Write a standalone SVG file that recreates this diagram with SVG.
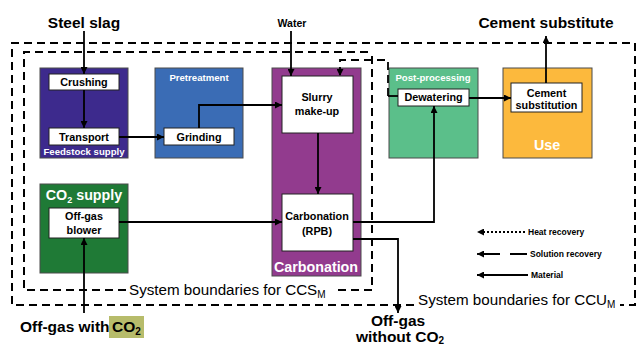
<svg xmlns="http://www.w3.org/2000/svg" width="638" height="347" viewBox="0 0 638 347">
<style>
text{font-family:"Liberation Sans",Arial,sans-serif;font-weight:bold;fill:#000}
.stage{stroke:#4a4a4a;stroke-width:1}
.proc{fill:#fff;stroke:#222;stroke-width:1}
.lbl{fill:#fff;font-size:9.6px}
.big{fill:#fff;font-size:14.3px}
.pt{font-size:10.8px;text-anchor:middle}
.io{font-size:15.5px}
.bnd{fill:none;stroke:#000;stroke-width:2;stroke-dasharray:8 5}
.bt{font-weight:normal;font-size:15.2px}
.con{fill:none;stroke:#000;stroke-width:1.8;marker-end:url(#ah)}
.ln{fill:none;stroke:#000;stroke-width:1.8}
.leg{font-size:8.5px}
</style>
<defs>
<marker id="ah" markerUnits="userSpaceOnUse" markerWidth="8" markerHeight="7" refX="7" refY="3.5" orient="auto">
<path d="M0,0 L7,3.5 L0,7 z" fill="#000"/>
</marker>
</defs>

<g id="boundaries">
<path class="bnd" d="M414,305 H12 V43 H635 V305 H620"/>
<path class="bnd" d="M126,290 H24 V52 H370"/>
<path class="bnd" d="M372,56 V290 H336"/>
<text class="bt" x="129" y="295">System boundaries for CCS<tspan font-size="10px" dy="3">M</tspan></text>
<text class="bt" x="418" y="305">System boundaries for CCU<tspan font-size="10px" dy="3">M</tspan></text>
</g>

<g id="feedstock">
<rect class="stage" x="40" y="68" width="88" height="90" fill="#3d2a8d"/>
<text class="lbl" x="84" y="155" text-anchor="middle">Feedstock supply</text>
</g>
<g id="crushing">
<rect class="proc" x="49" y="74" width="70" height="16"/>
<text class="pt" x="84" y="86">Crushing</text>
</g>
<g id="transport">
<rect class="proc" x="49" y="128" width="70" height="17"/>
<text class="pt" x="84" y="141">Transport</text>
</g>

<g id="pretreatment">
<rect class="stage" x="155" y="68" width="88" height="90" fill="#3a6cb5"/>
<text class="lbl" x="199" y="81" text-anchor="middle">Pretreatment</text>
</g>
<g id="grinding">
<rect class="proc" x="164" y="128" width="70" height="17"/>
<text class="pt" x="199" y="141">Grinding</text>
</g>

<g id="carbonation">
<rect class="stage" x="272" y="68" width="89" height="208" fill="#923b8e"/>
<text class="big" x="316" y="272" text-anchor="middle">Carbonation</text>
</g>
<g id="slurry">
<rect class="proc" x="282" y="76" width="71" height="57"/>
<text class="pt" x="317" y="101" font-size="11.2px">Slurry</text>
<text class="pt" x="317" y="115" font-size="11.2px">make-up</text>
</g>
<g id="rpb">
<rect class="proc" x="282" y="194" width="71" height="57"/>
<text class="pt" x="317" y="220">Carbonation</text>
<text class="pt" x="317" y="235">(RPB)</text>
</g>

<g id="postprocessing">
<rect class="stage" x="389" y="68" width="89" height="90" fill="#5bbf8a"/>
<text class="lbl" x="433" y="81" text-anchor="middle">Post-processing</text>
</g>
<g id="dewatering">
<rect class="proc" x="398" y="89" width="71" height="17"/>
<text class="pt" x="433.5" y="101">Dewatering</text>
</g>

<g id="use">
<rect class="stage" x="503" y="68" width="89" height="90" fill="#fcb93d"/>
<text class="big" x="547" y="150" text-anchor="middle" font-size="14.5px">Use</text>
</g>
<g id="cementsub">
<rect class="proc" x="511" y="83" width="71" height="29"/>
<text class="pt" x="546.5" y="97">Cement</text>
<text class="pt" x="546.5" y="109">substitution</text>
</g>

<g id="co2supply">
<rect class="stage" x="40" y="184" width="88" height="89" fill="#1f7a36"/>
<text class="big" x="84" y="200" text-anchor="middle" font-size="14px">CO<tspan font-size="9px" dy="3">2</tspan><tspan dy="-3"> supply</tspan></text>
</g>
<g id="blower">
<rect class="proc" x="49" y="208" width="70" height="30"/>
<text class="pt" x="84" y="220">Off-gas</text>
<text class="pt" x="84" y="234">blower</text>
</g>

<g id="steelslag"><text class="io" x="84" y="28" text-anchor="middle">Steel slag</text></g>
<g id="water"><text x="292" y="27" text-anchor="middle" font-size="10.5px" font-weight="normal">Water</text></g>
<g id="cementsubstitute"><text class="io" x="546" y="28" text-anchor="middle" font-size="15.7px">Cement substitute</text></g>
<g id="offgaswith">
<rect x="109" y="316" width="35" height="22" fill="#b7bc6b"/>
<text class="io" x="20" y="332" font-size="15.2px">Off-gas with</text>
<text class="io" x="112" y="332" font-size="15.2px">CO<tspan font-size="10px" dy="3">2</tspan></text>
</g>
<g id="offgaswithout">
<text class="io" x="398" y="326" text-anchor="middle" font-size="15.2px">Off-gas</text>
<text class="io" x="400" y="341.5" text-anchor="middle" font-size="15.2px">without CO<tspan font-size="10px" dy="2.5">2</tspan></text>
</g>

<g id="connectors">
<path class="con" d="M84,31 V74"/>
<path class="con" d="M84,90 V128"/>
<path class="con" d="M119,137 H164"/>
<path class="con" d="M199,128 V105 H282"/>
<path class="con" d="M291,31 V76"/>
<path class="con" d="M318,133 V194"/>
<path class="con" d="M119,222 H282"/>
<path class="con" d="M353,222 H434 V106"/>
<path class="con" d="M353,239 H398 V313"/>
<path class="con" d="M469,98 H511"/>
<path class="con" d="M546,83 V36"/>
<path class="con" d="M84,313 V238"/>
<path class="ln" d="M398,96 H388"/>
<path class="con" d="M388,96 V60 H340 V76" stroke-width="2" stroke-dasharray="8 5"/>
</g>

<g id="legend">
<path class="con" d="M525,232 H477" stroke-width="1.6" stroke-dasharray="2 2"/>
<path class="ln" d="M527,254 H510 M500,254 H484"/>
<path class="con" d="M480,254 H477"/>
<path class="con" d="M528,275 H477"/>
<text class="leg" x="528" y="235">Heat recovery</text>
<text class="leg" x="530" y="257">Solution recovery</text>
<text class="leg" x="531" y="278">Material</text>
</g>
</svg>
